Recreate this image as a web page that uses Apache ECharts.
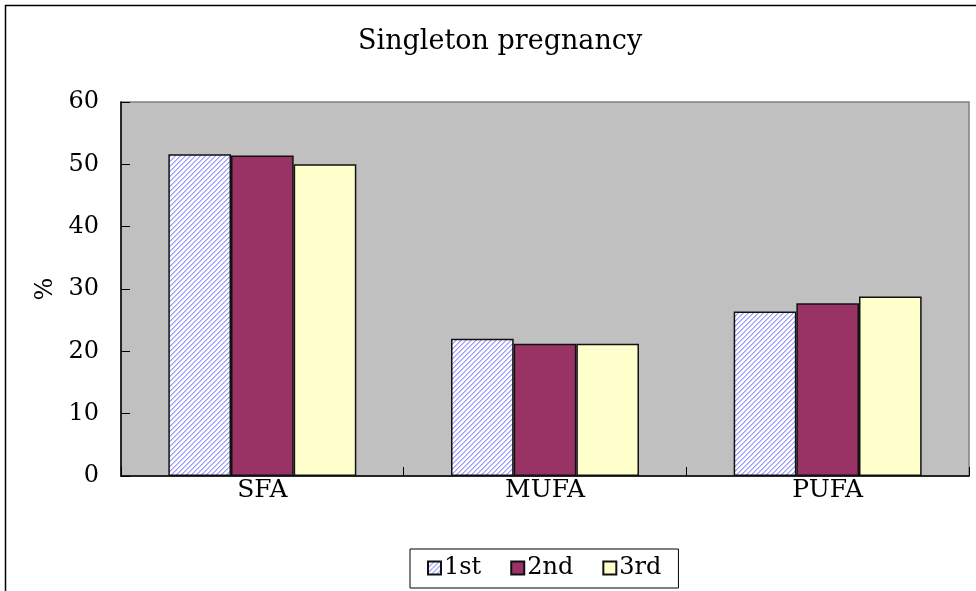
<!DOCTYPE html>
<html>
<head>
<meta charset="utf-8">
<script src="https://cdn.jsdelivr.net/npm/echarts@6/dist/echarts.min.js"></script>
<style>
html,body{margin:0;padding:0;background:#fff;}
#chart{width:976px;height:591px;}
</style>
</head>
<body>
<div id="chart"></div>
<script>
const categories = ['SFA', 'MUFA', 'PUFA'];
const seriesNames = ['1st', '2nd', '3rd'];
const first = [51.6, 22.0, 26.4];
const second = [51.4, 21.2, 27.7];
const third = [50.0, 21.2, 28.8];
const yTicks = [0, 10, 20, 30, 40, 50, 60];

// hatch pattern for the first series
const pc = document.createElement('canvas');
pc.width = 5; pc.height = 5;
const pctx = pc.getContext('2d');
const img = pctx.createImageData(5, 5);
for (let y = 0; y < 5; y++) {
  for (let x = 0; x < 5; x++) {
    const i = (y * 5 + x) * 4;
    const d = (x + y) % 5;
    let r = 255, g = 255, b = 255;
    if (d === 0) { r = 0x99; g = 0x99; }
    else if (d === 1) { r = 0xc4; g = 0xc4; }
    img.data[i] = r; img.data[i+1] = g; img.data[i+2] = b; img.data[i+3] = 255;
  }
}
pctx.putImageData(img, 0, 0);

const FONT = 'DejaVu Serif';
const chart = echarts.init(document.getElementById('chart'), null, {renderer: 'canvas'});
const barStyle = (color) => ({color: color, borderColor: '#111', borderWidth: 1.5});

chart.setOption({
  animation: false,
  backgroundColor: '#fff',
  title: {
    text: 'Singleton pregnancy',
    left: 353,
    top: 23,
    textStyle: {fontFamily: FONT, fontWeight: 'normal', fontSize: 27, color: '#000'}
  },
  graphic: [{
    type: 'rect',
    shape: {x: 5.5, y: 5.5, width: 1000, height: 700},
    style: {fill: 'none', stroke: '#000', lineWidth: 1.5},
    silent: true,
    z: -1
  }],
  legend: {
    data: seriesNames,
    left: 410,
    top: 549,
    orient: 'horizontal',
    itemWidth: 13,
    itemHeight: 13,
    itemGap: 29,
    padding: [7, 17, 8, 17],
    borderColor: '#000',
    borderWidth: 1,
    backgroundColor: '#fff',
    icon: 'rect',
    textStyle: {fontFamily: FONT, fontSize: 24, color: '#000', padding: [0, 0, 0, -2]}
  },
  grid: {
    left: 121,
    right: 7,
    top: 102,
    bottom: 115,
    show: true,
    backgroundColor: '#c0c0c0',
    borderColor: '#808080',
    borderWidth: 1.5
  },
  xAxis: {
    type: 'category',
    data: categories,
    boundaryGap: true,
    axisLine: {show: true, lineStyle: {color: '#000', width: 1.5}},
    axisTick: {show: true, inside: true, length: 9, lineStyle: {color: '#000', width: 1}},
    axisLabel: {fontFamily: FONT, fontSize: 25, color: '#000', margin: 2},
    splitLine: {show: false}
  },
  yAxis: {
    type: 'value',
    min: 0,
    max: 60,
    interval: 10,
    name: '%',
    nameLocation: 'middle',
    nameGap: 62,
    nameRotate: 90,
    nameTextStyle: {fontFamily: FONT, fontSize: 24, color: '#000'},
    axisLine: {show: true, lineStyle: {color: '#000', width: 1.5}},
    axisTick: {show: true, inside: true, length: 9, lineStyle: {color: '#000', width: 1}},
    axisLabel: {fontFamily: FONT, fontSize: 24, color: '#000', margin: 22, padding: [4, 0, 0, 0],
      formatter: (v) => yTicks.indexOf(v) >= 0 ? String(v) : ''},
    splitLine: {show: false}
  },
  series: [
    {name: seriesNames[0], type: 'bar', data: first, barGap: '0%', barCategoryGap: '33.5%',
      itemStyle: barStyle({image: pc, repeat: 'repeat'})},
    {name: seriesNames[1], type: 'bar', data: second, barGap: '0%', barCategoryGap: '33.5%',
      itemStyle: barStyle('#993366')},
    {name: seriesNames[2], type: 'bar', data: third, barGap: '0%', barCategoryGap: '33.5%',
      itemStyle: barStyle('#ffffcc')}
  ]
});
</script>
</body>
</html>
